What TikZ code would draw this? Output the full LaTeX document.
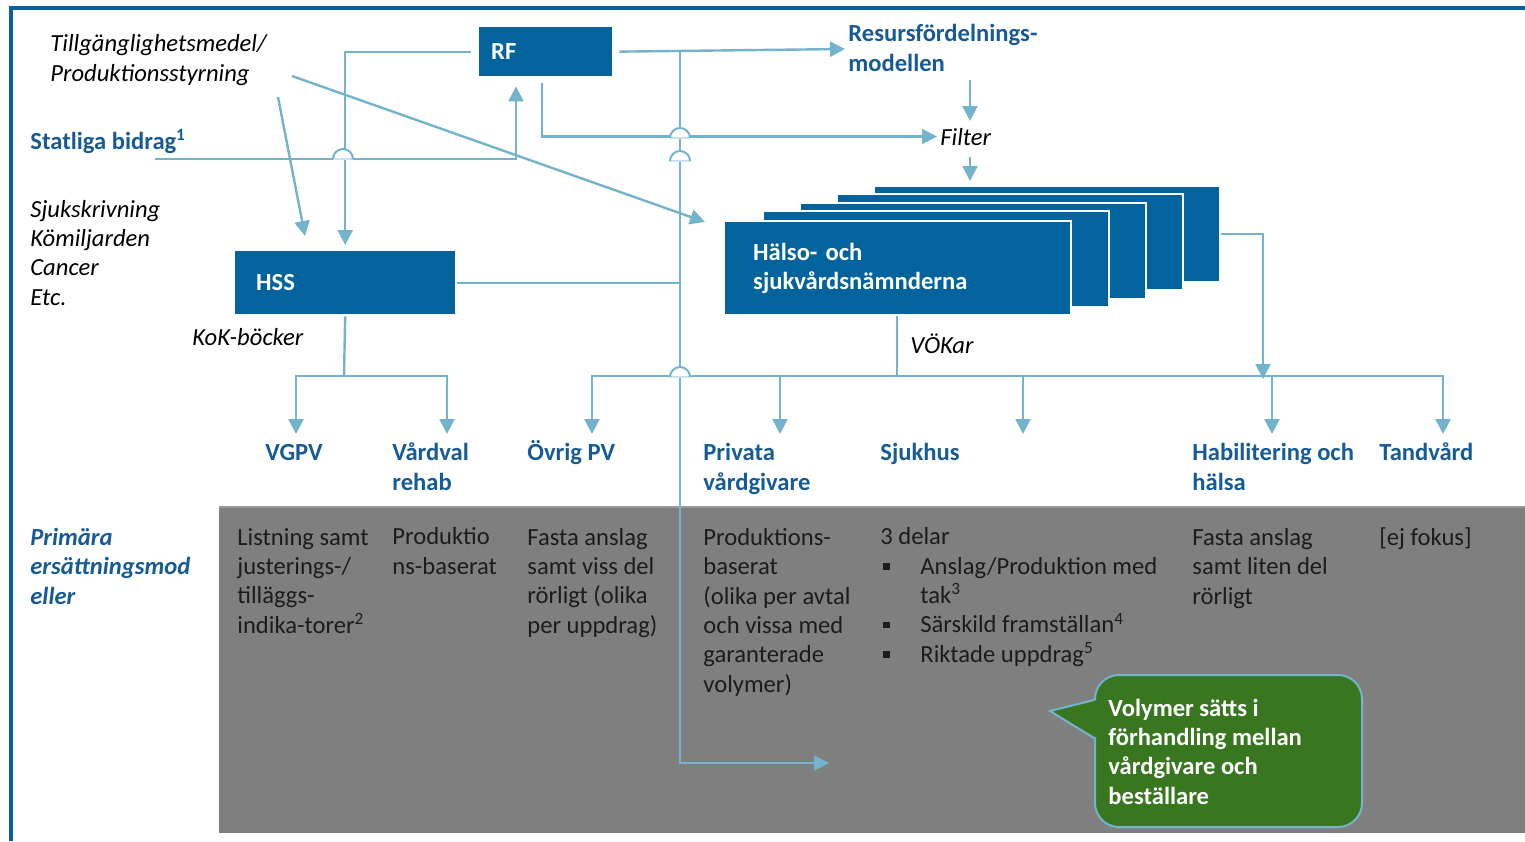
\documentclass[tikz,border=0pt]{standalone}
\usepackage{fontspec}
\setmainfont{Carlito}
\usetikzlibrary{arrows.meta}
\definecolor{frameblue}{HTML}{0A5F9A}
\definecolor{boxblue}{HTML}{03639C}
\definecolor{conn}{HTML}{74B3CC}
\definecolor{lblue}{HTML}{165A96}
\definecolor{graybg}{HTML}{7F7F7F}
\definecolor{graytxt}{HTML}{1C1C1C}
\definecolor{callgreen}{HTML}{38771F}
\definecolor{hopbase}{HTML}{C9E2EC}
\begin{document}
\begin{tikzpicture}[x=0.5pt,y=-0.5pt,
  font=\fontsize{12.3}{14.65}\selectfont,
  conn/.style={draw=conn, line width=1.2pt},
  arr/.style={conn, -{Triangle[length=7.5pt,width=7.5pt]}},
  bluebox/.style={fill=boxblue, draw=white, line width=1.2pt, inner ysep=0, anchor=north west,
     text=white, font=\fontsize{12.3}{14.65}\selectfont\bfseries, align=left},
  itxt/.style={font=\fontsize{12.3}{14.65}\selectfont\itshape, anchor=base west, inner sep=0, align=left},
  btxt/.style={text=lblue, font=\fontsize{12.3}{14.65}\selectfont\bfseries, anchor=base west, inner sep=0, align=left},
  gtxt/.style={text=graytxt, anchor=base west, inner sep=0, align=left},
  callbox/.style={fill=callgreen, draw=conn, line width=1pt, rounded corners=12pt, anchor=north west,
     minimum width=133.5pt, minimum height=76pt, inner sep=0},
  hop/.pic={
    \fill[white] (-10,0) arc[start angle=180,end angle=360,radius=10] -- cycle;
    \draw[hopbase, line width=1pt] (-10,0) -- (10,0);
    \draw[conn, line width=1pt] (-10,0) arc[start angle=180,end angle=360,radius=10];
  }
]
\useasboundingbox (0,0) rectangle (1525,841);
% frame
\draw[frameblue, line width=1.8pt] (1525,8) -- (11,8) -- (11,841);
% gray area
\fill[graybg] (219,507) rectangle (1525,833);
\draw[gray!80!white, line width=0.8pt] (219,507) -- (1525,507);

% boxes
\node[bluebox, minimum width=67.5pt, minimum height=25.5pt, inner xsep=6.5pt, text width=54.5pt] (rf) at (477,25) {RF};
\node[bluebox, minimum width=111pt, minimum height=32.5pt, inner xsep=11pt, text width=89pt] (hss) at (233,249) {HSS};
\node[bluebox, minimum width=173pt, minimum height=48pt] (hn5) at (873,185) {};
\node[bluebox, minimum width=173pt, minimum height=48pt] (hn4) at (836,193) {};
\node[bluebox, minimum width=173pt, minimum height=48pt] (hn3) at (799,202) {};
\node[bluebox, minimum width=173pt, minimum height=48pt] (hn2) at (762,210) {};
\node[bluebox, minimum width=173.5pt, minimum height=47pt, inner xsep=14.5pt, text width=144.5pt] (hn1) at (723,220) {Hälso- och\\sjukvårdsnämnderna};

% texts (multi-line nodes are placed at the baseline of their last line)
\node[itxt] (tillg) at (50,81) {Tillgänglighetsmedel/\\Produktionsstyrning};
\node[btxt] (statliga) at (30,149) {Statliga bidrag\textsuperscript{1}};
\node[itxt] (sjuk) at (30,305) {Sjukskrivning\\Kömiljarden\\Cancer\\Etc.};
\node[itxt] (kok) at (192,345) {KoK-böcker};
\node[btxt] (resurs) at (848,71) {Resursfördelnings-\\modellen};
\node[itxt] (filter) at (940,145) {Filter};
\node[itxt] (vokar) at (910,353) {VÖKar};

\node[btxt] (vgpv) at (265,460) {VGPV};
\node[btxt] (vardval) at (392,490) {Vårdval\\rehab};
\node[btxt] (ovrig) at (527,460) {Övrig PV};
\node[btxt] (privata) at (703,490) {Privata\\vårdgivare};
\node[btxt] (sjukhus) at (880,460) {Sjukhus};
\node[btxt] (habil) at (1192,490) {Habilitering och\\hälsa};
\node[btxt] (tand) at (1379,460) {Tandvård};

\node[btxt, font=\fontsize{12.3}{14.65}\selectfont\bfseries\itshape] (primara) at (30,604) {Primära\\ersättningsmod\\eller};

\node[gtxt] (g1) at (237,633) {Listning samt\\justerings-/\\tilläggs-\\indika-torer\textsuperscript{2}};
\node[gtxt] (g2) at (392,574) {Produktio\\ns-baserat};
\node[gtxt] (g3) at (527,633) {Fasta anslag\\samt viss del\\rörligt (olika\\per uppdrag)};
\node[gtxt] (g4) at (703,692) {Produktions-\\baserat\\(olika per avtal\\och vissa med\\garanterade\\volymer)};
\node[gtxt] (g5) at (880,662) {3 delar\\
  \makebox[20pt][l]{\hspace*{1.5pt}\raisebox{2.2pt}{\rule{3.2pt}{3.2pt}}}Anslag/Produktion med\\
  \hspace*{20pt}tak\textsuperscript{3}\\
  \makebox[20pt][l]{\hspace*{1.5pt}\raisebox{2.2pt}{\rule{3.2pt}{3.2pt}}}Särskild framställan\textsuperscript{4}\\
  \makebox[20pt][l]{\hspace*{1.5pt}\raisebox{2.2pt}{\rule{3.2pt}{3.2pt}}}Riktade uppdrag\textsuperscript{5}};
\node[gtxt] (g6) at (1192,604) {Fasta anslag\\samt liten del\\rörligt};
\node[gtxt] (g7) at (1379,545) {[ej fokus]};

% coordinates
\coordinate (sbstart) at (155,159);
\coordinate (rfup) at (516,159);
\coordinate (resin) at (845,49);
\coordinate (rd1) at (970,80);
\coordinate (rd2) at (970,121);
\coordinate (fd1) at (970,157);
\coordinate (fd2) at (970,181);
\coordinate (tp1) at (278,97);
\coordinate (tp1e) at (305,236);
\coordinate (tp2) at (292,76);
\coordinate (tp2e) at (705,222);
\coordinate (hssj) at (344,376);
\coordinate (a1) at (296,434);
\coordinate (a2) at (447,434);
\coordinate (vtop) at (680,51);
\coordinate (botarr) at (829,763);
\coordinate (hnj) at (897,376);
\coordinate (b1) at (592,434);
\coordinate (b2) at (780,434);
\coordinate (b3) at (1023,434);
\coordinate (b4) at (1272,434);
\coordinate (b5) at (1443,434);
\coordinate (b6) at (1263,379);

% connectors
\draw[arr, shorten <=3pt, shorten >=2pt] (rf.west) -| (hss.north);
\draw[arr, shorten >=4pt] (sbstart) -| (rf.south -| rfup);
\draw[arr, shorten >=1.5pt] ([xshift=-1.75pt,yshift=-2.5pt]rf.south) |- (filter.west);
\draw[arr, shorten <=2.5pt] (rf.east) -- (resin);
\draw[arr] (rd1) -- (rd2);
\draw[arr] (fd1) -- (fd2);
\draw[arr] (tp1) -- (tp1e);
\draw[arr] (tp2) -- (tp2e);
\draw[conn] (hss.south) -- (hssj);
\draw[arr] (hssj) -| (a1);
\draw[arr] (hssj) -| (a2);
\draw[conn] (hss.east) -- (hss.east -| vtop);
\draw[arr] (vtop) |- (botarr);
\draw[conn] (hn1.south -| hnj) -- (hnj);
\draw[arr] (hnj) -| (b1);
\draw[arr] (hnj) -| (b2);
\draw[arr] (hnj) -| (b3);
\draw[arr] (hnj) -| (b4);
\draw[arr] (hnj) -| (b5);
\draw[arr] (hn5.east) -| (b6);

% hops
\pic at (343,159) {hop};
\pic at (680,138) {hop};
\pic at (680,161) {hop};
\pic at (680,377) {hop};

% callout
\node[callbox] (cbox) at (1094,674) {};
\coordinate (ctip) at (1050,711);
\fill[callgreen] (1097,700) -- (ctip) -- (1097,738) -- cycle;
\draw[conn, line width=1pt, line join=miter] (1094,700) -- (ctip) -- (1094,738);
\node[btxt, text=white] (callout) at (1108,804) {Volymer sätts i\\förhandling mellan\\vårdgivare och\\beställare};
\end{tikzpicture}
\end{document}
